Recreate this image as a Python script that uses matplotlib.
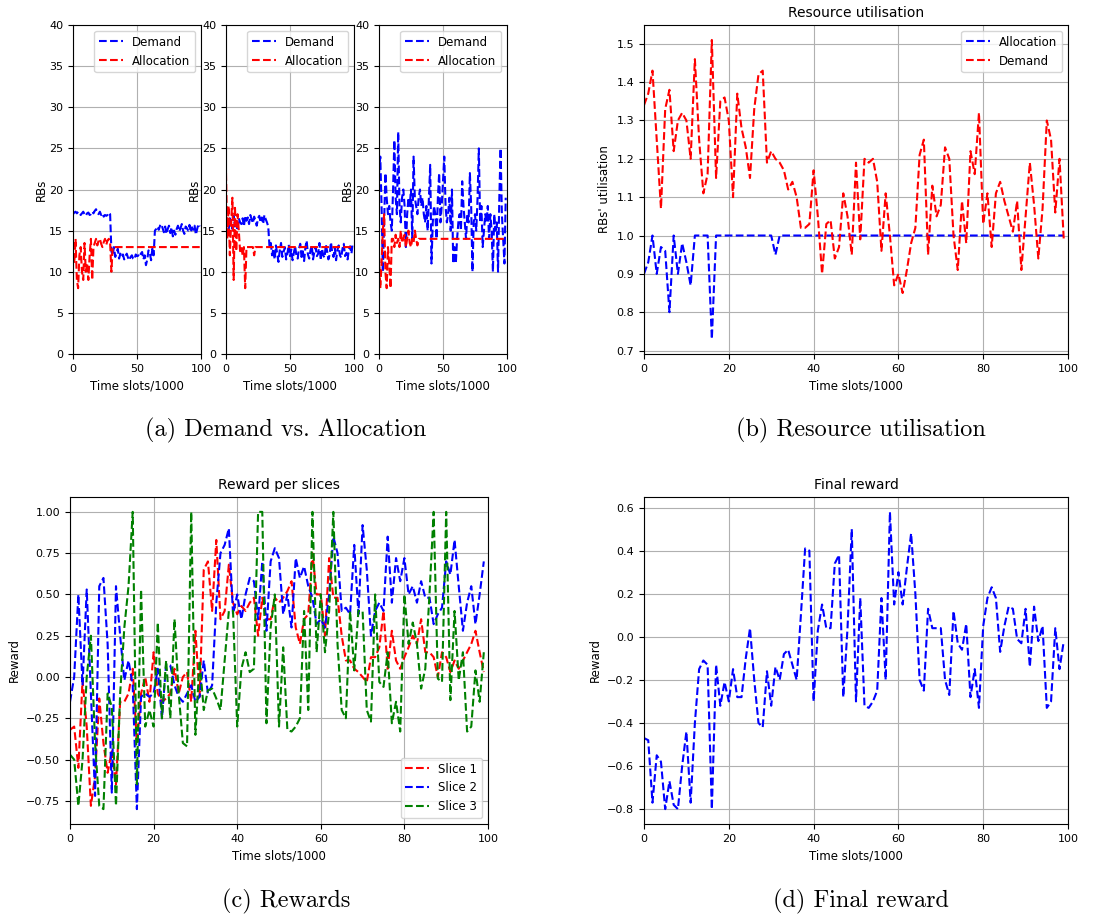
import numpy as np
import matplotlib
matplotlib.use("Agg")
import matplotlib.pyplot as plt

# ---- demand vs allocation per slice (RBs) ----
a1_demand = [17.0, 17.2, 17.3, 17.1, 17.3, 17.2, 16.9, 17.1, 17.3, 17.0,
             16.8, 17.1, 17.2, 16.9, 17.0, 17.3, 17.1, 17.4, 17.6, 17.2,
             17.0, 17.3, 16.9, 17.1, 16.7, 16.9, 16.8, 16.9, 17.2, 17.0,
             12.5, 12.0, 13.0, 11.8, 12.3, 12.8, 11.6, 12.2, 11.8, 12.1,
             11.5, 11.9, 12.2, 11.7, 11.4, 11.8, 12.0, 11.6, 11.5, 12.1,
             11.9, 12.0, 11.8, 12.2, 12.4, 11.5, 12.0, 10.8, 11.5, 12.6,
             12.3, 11.4, 12.8, 12.0, 15.0, 15.2, 15.5, 15.1, 15.6, 15.8,
             15.3, 14.8, 15.5, 14.6, 15.2, 15.6, 14.7, 15.4, 14.3, 15.0,
             14.5, 15.2, 15.6, 14.9, 15.3, 15.8, 15.0, 14.6, 15.5, 15.3,
             15.0, 15.7, 14.8, 15.4, 15.1, 15.6, 14.5, 15.2, 15.8, 15.5]
a1_alloc = ([12.0, 11.0, 14.0, 9.0, 8.0, 12.0, 13.0, 10.0, 9.0, 13.5,
             10.0, 11.0, 9.0, 12.0, 14.0, 9.0, 13.0, 13.5, 14.0, 13.2,
             13.8, 14.0, 13.4, 13.0, 13.6, 14.0, 13.3, 13.8, 14.0, 13.5,
             10.0] + [13.0] * 69)

a2_demand = [15.5, 16.0, 15.0, 16.5, 16.0, 15.2, 16.8, 15.5, 16.2, 15.0,
             16.5, 16.0, 15.8, 16.5, 15.5, 16.8, 16.2, 16.6, 15.8, 16.9,
             16.4, 15.9, 16.7, 16.2, 15.6, 16.5, 16.8, 16.0, 16.6, 15.8,
             16.9, 16.4, 16.0, 15.5, 13.0, 13.5, 12.0, 12.8, 11.5, 13.2,
             12.2, 11.2, 12.6, 13.5, 11.8, 12.4, 13.0, 11.5, 12.2, 13.3,
             11.9, 12.7, 11.4, 12.3, 13.1, 12.0, 11.6, 12.8, 13.4, 11.8,
             12.5, 11.3, 12.9, 13.8, 12.1, 11.6, 12.6, 13.2, 11.5, 12.4,
             13.0, 11.9, 12.2, 13.5, 11.4, 12.8, 12.0, 11.7, 13.3, 12.5,
             11.5, 12.1, 13.6, 12.3, 11.8, 12.9, 11.4, 12.6, 13.2, 12.0,
             11.7, 12.8, 13.4, 11.9, 12.3, 11.5, 12.7, 13.1, 12.2, 13.5]
a2_alloc = ([22.0, 14.0, 18.0, 12.0, 16.0, 19.0, 9.0, 18.0, 12.5, 17.0,
             15.0, 12.5, 13.0, 12.0, 13.0, 8.0, 13.0, 13.0, 13.0, 13.0,
             13.0, 13.0, 12.0] + [13.0] * 77)

a3_demand = [22, 24, 18, 10, 16, 22, 19, 17, 18, 16,
             15, 20, 26, 19, 17, 27, 18, 16, 19, 20,
             18, 13, 17, 19, 18, 20, 14, 24, 19, 18,
             17, 19, 20, 18, 19, 17, 16, 18, 15, 19,
             23, 11, 16, 18, 17, 14, 19, 22, 16, 18,
             21, 24, 18, 16, 17, 19, 15, 20, 11, 13,
             11, 14, 16, 17, 15, 21, 18, 16, 14, 17,
             16, 22, 18, 10, 16, 17, 15, 19, 25, 16,
             18, 13, 15, 17, 16, 18, 14, 17, 15, 10,
             17, 15, 16, 10, 19, 25, 17, 14, 11, 19]
a3_alloc = ([12, 8, 11, 15, 17, 10, 8, 13, 11, 8,
             14, 14, 13, 14.5, 13.5, 14, 13, 15, 13.5, 14,
             14.5, 13, 14, 15, 13.5, 13, 14, 13.5, 15, 14,
             13.2] + [14.0] * 69)

# ---- resource utilisation ----
util_alloc = ([0.90, 0.93, 1.00, 0.90, 0.97, 0.96, 0.80, 1.00, 0.90, 0.98,
               0.93, 0.87, 1.00, 1.00, 1.00, 1.00, 0.73, 1.00, 1.00, 1.00,
               1.00, 1.00, 1.00, 1.00, 1.00, 1.00, 1.00, 1.00, 1.00, 1.00,
               1.00, 0.95] + [1.00] * 68)
util_demand = [1.34, 1.37, 1.43, 1.25, 1.07, 1.33, 1.38, 1.22, 1.30, 1.32,
               1.30, 1.20, 1.46, 1.25, 1.11, 1.16, 1.51, 1.15, 1.35, 1.36,
               1.30, 1.10, 1.37, 1.28, 1.23, 1.15, 1.33, 1.42, 1.43, 1.19,
               1.22, 1.20, 1.19, 1.17, 1.12, 1.14, 1.10, 1.02, 1.02, 1.03,
               1.17, 1.05, 0.90, 1.03, 1.04, 0.94, 0.97, 1.11, 1.05, 0.95,
               1.19, 0.99, 1.20, 1.19, 1.20, 1.14, 0.96, 1.11, 1.00, 0.87,
               0.90, 0.85, 0.91, 0.98, 1.02, 1.21, 1.25, 0.95, 1.13, 1.05,
               1.08, 1.23, 1.20, 1.00, 0.91, 1.09, 0.98, 1.22, 1.16, 1.32,
               1.03, 1.11, 0.97, 1.11, 1.14, 1.09, 1.05, 1.01, 1.09, 0.91,
               1.05, 1.19, 1.08, 0.94, 1.07, 1.30, 1.25, 1.06, 1.20, 0.99]

# ---- reward per slice ----
slice1 = [-0.32, -0.30, -0.55, -0.02, -0.30, -0.78, -0.60, -0.13, -0.40, -0.58,
          -0.45, -0.65, -0.15, -0.15, -0.10, 0.05, -0.40, -0.10, 0.00, -0.15,
          0.15, -0.10, -0.15, -0.13, -0.10, 0.05, -0.10, 0.00, 0.03, -0.15,
          0.28, -0.12, 0.65, 0.70, 0.40, 0.83, 0.35, 0.40, 0.68, 0.45,
          0.38, 0.43, 0.40, 0.45, 0.48, 0.25, 0.48, 0.35, 0.35, 0.48,
          0.45, 0.48, 0.52, 0.58, 0.30, 0.20, 0.35, 0.38, 0.75, 0.50,
          0.50, 0.25, 0.72, 0.48, 0.48, 0.25, 0.10, 0.10, 0.05, 0.03,
          0.00, -0.03, 0.12, 0.12, 0.18, 0.40, 0.05, 0.28, 0.10, 0.05,
          0.12, 0.18, 0.25, 0.20, 0.35, 0.15, 0.15, 0.12, 0.00, 0.15,
          0.12, 0.03, 0.10, 0.05, 0.10, 0.15, 0.20, 0.28, 0.15, 0.03]
slice2 = [-0.15, 0.00, 0.50, -0.05, 0.53, -0.10, -0.72, 0.55, 0.60, 0.20,
          -0.70, 0.55, 0.25, -0.02, 0.10, -0.05, -0.80, -0.12, -0.10, -0.12,
          -0.10, 0.05, -0.25, 0.08, 0.07, -0.05, -0.12, -0.15, -0.10, -0.05,
          -0.15, -0.12, 0.10, -0.10, -0.05, 0.45, 0.75, 0.80, 0.90, 0.38,
          0.50, 0.35, 0.50, 0.60, 0.58, 0.35, 0.70, 0.28, 0.70, 0.78,
          0.72, 0.38, 0.50, 0.30, 0.72, 0.60, 0.67, 0.55, 0.48, 0.32,
          0.35, 0.30, 0.50, 0.85, 0.75, 0.40, 0.42, 0.38, 0.80, 0.38,
          0.92, 0.65, 0.25, 0.40, 0.45, 0.40, 0.85, 0.45, 0.72, 0.58,
          0.72, 0.50, 0.55, 0.45, 0.58, 0.48, 0.48, 0.32, 0.38, 0.42,
          0.70, 0.62, 0.83, 0.55, 0.28, 0.45, 0.55, 0.32, 0.50, 0.70]
slice3 = [-0.47, -0.50, -0.78, -0.50, 0.00, 0.25, -0.40, -0.78, -0.80, -0.10,
          -0.18, -0.78, -0.10, 0.30, 0.55, 1.00, -0.65, 0.53, -0.30, -0.20,
          -0.30, 0.33, -0.25, 0.10, -0.25, 0.35, -0.10, -0.40, -0.42, 1.00,
          -0.35, 0.10, -0.20, -0.08, -0.07, -0.13, -0.20, 0.10, 0.40, 0.40,
          -0.30, 0.05, 0.15, 0.03, 0.05, 1.00, 1.00, -0.28, 0.30, 0.50,
          -0.30, 0.18, -0.32, -0.33, -0.30, -0.25, 0.40, -0.20, 1.00, 0.15,
          0.50, 0.15, 0.40, 1.00, 0.20, -0.20, -0.25, 0.40, 0.04, 0.40,
          0.40, -0.20, -0.27, 0.50, -0.03, -0.06, 0.15, -0.28, -0.15, -0.33,
          0.50, 0.20, 0.33, 0.20, -0.07, 0.05, 0.50, 1.00, -0.01, -0.03,
          1.00, -0.14, 0.40, -0.02, 0.15, -0.33, -0.30, 0.04, -0.15, 0.15]

# ---- final reward ----
final_reward = [-0.47, -0.48, -0.77, -0.55, -0.58, -0.80, -0.67, -0.78, -0.80, -0.60,
                -0.44, -0.77, -0.40, -0.15, -0.11, -0.13, -0.80, -0.13, -0.32, -0.21,
                -0.30, -0.15, -0.28, -0.28, -0.10, 0.04, -0.20, -0.40, -0.42, -0.16,
                -0.32, -0.14, -0.20, -0.08, -0.06, -0.13, -0.20, 0.10, 0.41, 0.40,
                -0.30, 0.03, 0.15, 0.04, 0.04, 0.34, 0.38, -0.28, 0.04, 0.50,
                -0.30, 0.18, -0.32, -0.33, -0.30, -0.25, 0.18, -0.20, 0.58, 0.15,
                0.30, 0.15, 0.32, 0.48, 0.20, -0.20, -0.25, 0.13, 0.04, 0.04,
                0.04, -0.20, -0.27, 0.12, -0.03, -0.06, 0.06, -0.28, -0.15, -0.33,
                0.05, 0.18, 0.23, 0.18, -0.07, 0.05, 0.14, 0.13, -0.01, -0.03,
                0.13, -0.14, 0.14, -0.02, 0.05, -0.33, -0.30, 0.04, -0.15, -0.02]

W, H = 1103, 918
fig = plt.figure(figsize=(W / 100, H / 100), dpi=100)


def box(l, t, r, b):
    return [l / W, 1 - b / H, (r - l) / W, (b - t) / H]


def style(ax):
    ax.grid(True, color="#b0b0b0", linewidth=0.8)
    ax.tick_params(labelsize=8)
    ax.set_xlabel("Time slots/1000", fontsize=8.5)


# (a) demand vs allocation, one axes per slice
pairs = [(a1_demand, a1_alloc), (a2_demand, a2_alloc), (a3_demand, a3_alloc)]
lefts = [73, 226, 379]
for left, (dem, alloc) in zip(lefts, pairs):
    ax = fig.add_axes(box(left, 25, left + 128, 354))
    ax.plot(np.arange(len(dem)), dem, "b--", lw=1.5, label="Demand")
    ax.plot(np.arange(len(alloc)), alloc, "r--", lw=1.5, label="Allocation")
    ax.set_xlim(0, 100)
    ax.set_ylim(0, 40)
    ax.set_xticks([0, 50, 100])
    ax.set_yticks(range(0, 41, 5))
    ax.set_ylabel("RBs", fontsize=8.5, labelpad=1)
    style(ax)
    ax.legend(loc="upper right", fontsize=8.5)

# (b) resource utilisation
axb = fig.add_axes(box(644, 25, 1068, 354))
axb.plot(np.arange(len(util_alloc)), util_alloc, "b--", lw=1.5, label="Allocation")
axb.plot(np.arange(len(util_demand)), util_demand, "r--", lw=1.5, label="Demand")
axb.set_xlim(0, 100)
axb.set_title("Resource utilisation", fontsize=10)
axb.set_ylabel("RBs' utilisation", fontsize=8.5)
style(axb)
axb.legend(loc="upper right", fontsize=8.5)

# (c) reward per slice
axc = fig.add_axes(box(70, 497, 488, 824))
axc.plot(np.arange(len(slice1)), slice1, "r--", lw=1.5, label="Slice 1")
axc.plot(np.arange(len(slice2)), slice2, "b--", lw=1.5, label="Slice 2")
axc.plot(np.arange(len(slice3)), slice3, "g--", lw=1.5, label="Slice 3")
axc.set_xlim(0, 100)
axc.set_yticks([-0.75, -0.5, -0.25, 0, 0.25, 0.5, 0.75, 1.0])
axc.set_title("Reward per slices", fontsize=10)
axc.set_ylabel("Reward", fontsize=8.5)
style(axc)
axc.legend(loc="lower right", fontsize=8.5)

# (d) final reward
axd = fig.add_axes(box(644, 497, 1068, 824))
axd.plot(np.arange(len(final_reward)), final_reward, "b--", lw=1.5)
axd.set_xlim(0, 100)
axd.set_title("Final reward", fontsize=10)
axd.set_ylabel("Reward", fontsize=8.5)
style(axd)

# sub-captions
cap = dict(fontsize=17.5, family="cmr10", ha="center", va="center")
fig.text(286 / W, 1 - 430 / H, "(a) Demand vs. Allocation", **cap)
fig.text(861 / W, 1 - 430 / H, "(b) Resource utilisation", **cap)
fig.text(286 / W, 1 - 901 / H, "(c) Rewards", **cap)
fig.text(861 / W, 1 - 901 / H, "(d) Final reward", **cap)

fig.savefig("out.png", dpi=100)
